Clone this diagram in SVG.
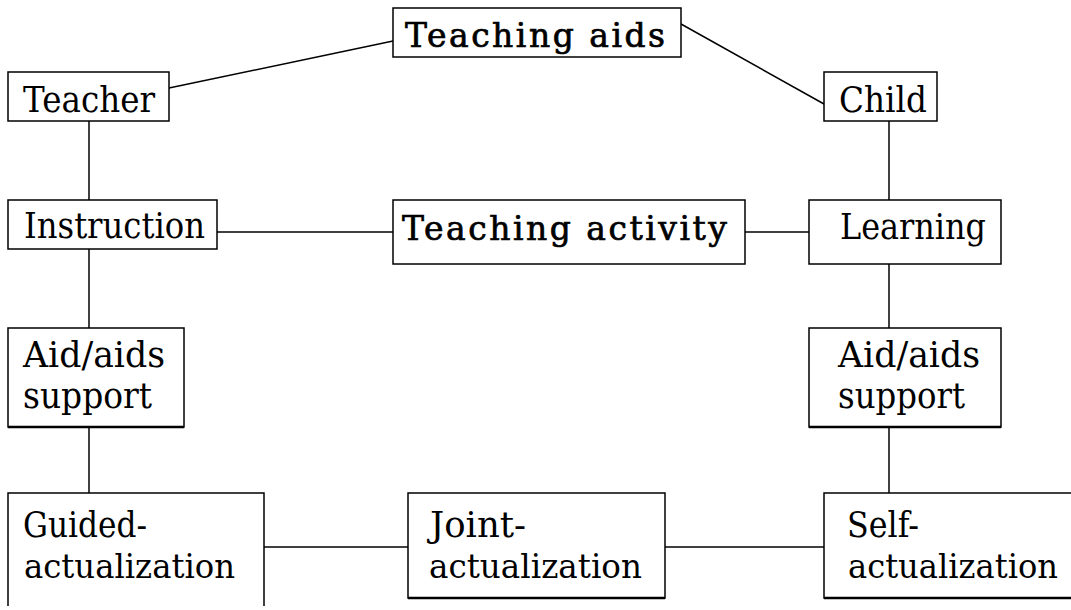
<svg xmlns="http://www.w3.org/2000/svg" width="1071" height="610" viewBox="0 0 1071 610">
<style>
.box{fill:#fff;stroke:#000;stroke-width:1.5}
.sh{stroke:#000;stroke-width:2.5;fill:none}
.ln{stroke:#000;stroke-width:1.5;fill:none}
text{font-family:"DejaVu Serif","Liberation Serif",serif;font-size:35px;fill:#000}
.b{font-size:33px;stroke:#000;stroke-width:0.7}
.act{font-size:33px}
</style>
<rect width="1071" height="610" fill="#fff"/>
<g id="connectors">
<line class="ln" x1="169" y1="88" x2="393" y2="41"/>
<line class="ln" x1="681" y1="24" x2="824" y2="104"/>
<line class="ln" x1="89" y1="121" x2="89" y2="200"/>
<line class="ln" x1="889" y1="121" x2="889" y2="200"/>
<line class="ln" x1="217" y1="232" x2="393" y2="232"/>
<line class="ln" x1="745" y1="232" x2="809" y2="232"/>
<line class="ln" x1="89" y1="249" x2="89" y2="328"/>
<line class="ln" x1="889" y1="264" x2="889" y2="328"/>
<line class="ln" x1="89" y1="427" x2="89" y2="493"/>
<line class="ln" x1="889" y1="427" x2="889" y2="493"/>
<line class="ln" x1="264" y1="547" x2="408" y2="547"/>
<line class="ln" x1="665" y1="547" x2="824" y2="547"/>
</g>
<g id="teaching-aids">
<rect class="box" x="393" y="8" width="288" height="49"/>
<text class="b" x="405" y="47" textLength="260" lengthAdjust="spacing">Teaching aids</text>
</g>
<g id="teacher">
<rect class="box" x="8" y="72" width="161" height="49"/>
<text x="23" y="112" textLength="132" lengthAdjust="spacingAndGlyphs">Teacher</text>
</g>
<g id="child">
<rect class="box" x="824" y="72" width="113" height="49"/>
<text x="839" y="112" textLength="88" lengthAdjust="spacingAndGlyphs">Child</text>
</g>
<g id="instruction">
<rect class="box" x="8" y="200" width="209" height="49"/>
<text x="24" y="238" textLength="181" lengthAdjust="spacingAndGlyphs">Instruction</text>
</g>
<g id="teaching-activity">
<rect class="box" x="393" y="200" width="352" height="64"/>
<text class="b" x="402" y="240" textLength="325" lengthAdjust="spacing">Teaching activity</text>
</g>
<g id="learning">
<rect class="box" x="809" y="200" width="192" height="64"/>
<text x="840" y="239" textLength="146" lengthAdjust="spacingAndGlyphs">Learning</text>
</g>
<g id="aid-left">
<rect class="box" x="8" y="328" width="176" height="99"/>
<line class="sh" x1="8" y1="427" x2="184" y2="427"/>
<text x="23" y="367" textLength="142" lengthAdjust="spacingAndGlyphs">Aid/aids</text>
<text x="23" y="408" textLength="129" lengthAdjust="spacingAndGlyphs">support</text>
</g>
<g id="aid-right">
<rect class="box" x="809" y="328" width="192" height="99"/>
<line class="sh" x1="809" y1="427" x2="1001" y2="427"/>
<text x="838" y="367" textLength="142" lengthAdjust="spacingAndGlyphs">Aid/aids</text>
<text x="838" y="408" textLength="127" lengthAdjust="spacingAndGlyphs">support</text>
</g>
<g id="guided">
<path class="ln" d="M8,606 V493 H264 V606"/>
<text x="23" y="537" textLength="124" lengthAdjust="spacingAndGlyphs">Guided-</text>
<text class="act" x="24" y="578" textLength="211" lengthAdjust="spacingAndGlyphs">actualization</text>
</g>
<g id="joint">
<rect class="box" x="408" y="493" width="257" height="105"/>
<line class="sh" x1="408" y1="598" x2="665" y2="598"/>
<text x="430" y="537" textLength="96" lengthAdjust="spacingAndGlyphs">Joint-</text>
<text class="act" x="429" y="578" textLength="213" lengthAdjust="spacingAndGlyphs">actualization</text>
</g>
<g id="self">
<path class="ln" d="M1071,493 H824 V598 H1071"/>
<line class="sh" x1="824" y1="598" x2="1071" y2="598"/>
<text x="847" y="537" textLength="72" lengthAdjust="spacingAndGlyphs">Self-</text>
<text class="act" x="848" y="578" textLength="210" lengthAdjust="spacingAndGlyphs">actualization</text>
</g>
</svg>
